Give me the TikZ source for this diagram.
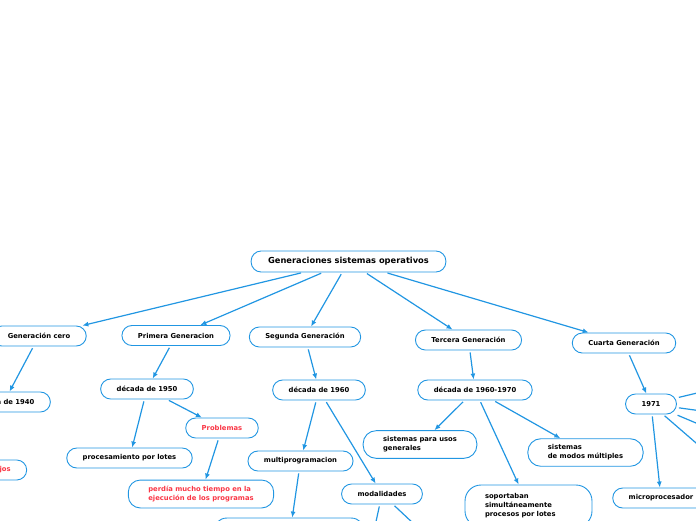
\documentclass[tikz,border=0pt]{standalone}
\usepackage{fontspec}
\setmainfont{DejaVu Sans}
\usetikzlibrary{arrows.meta}

\definecolor{mmblue}{RGB}{33,150,226}
\definecolor{mmred}{RGB}{250,55,70}

\tikzset{
  topic/.style={draw=mmblue, line width=0.9pt, fill=white, rounded corners=10pt,
    inner xsep=16pt, inner ysep=0pt, minimum height=20pt, align=center,
    font=\bfseries\fontsize{6.8}{9}\selectfont},
  roottopic/.style={topic, minimum height=21pt, inner xsep=17pt,
    font=\bfseries\fontsize{8.3}{10}\selectfont},
  note/.style={topic, align=left, inner xsep=20pt, inner ysep=6pt, rounded corners=13pt},
  warn/.style={text=mmred},
  link/.style={draw=mmblue, line width=1.2pt, shorten <=2pt,
    -{Latex[length=6pt,width=5pt]}},
}

\begin{document}
\begin{tikzpicture}[x=1pt, y=-1pt]
  \useasboundingbox (0,0) rectangle (696,520);
  \clip (0,0) rectangle (696,520);

  % Central topic
  \node[roottopic] (root) at (348.5,261.5) {Generaciones sistemas operativos};

  % Generations
  \node[topic] (gen0) at (39,336) {Generación cero};
  \node[topic] (gen1) at (176,335.5) {Primera Generacion};
  \node[topic] (gen2) at (305,337) {Segunda Generación};
  \node[topic] (gen3) at (468.5,340) {Tercera Generación};
  \node[topic] (gen4) at (624,343) {Cuarta Generación};

  % Generacion cero
  \node[topic] (dec40) at (4,402) {década de 1940};
  \node[topic, warn] (trab) at (-5.5,470) {Trabajos};
  \coordinate (c40) at (-22,445);

  % Primera generacion
  \node[topic] (dec50) at (147,389) {década de 1950};
  \node[topic] (lotes) at (129.5,458) {procesamiento por lotes};
  \node[topic, warn] (prob) at (222,428) {Problemas};
  \node[note, warn, rounded corners=12pt] (perdia) at (201,494)
    {perdía mucho tiempo en la\\ejecución de los programas};

  % Segunda generacion
  \node[topic] (dec60) at (319,390) {década de 1960};
  \node[topic] (multi) at (300.5,461) {multiprogramacion};
  \node[topic] (modal) at (382,494) {modalidades};
  \node[topic, minimum width=152pt, minimum height=44pt, rounded corners=14pt] (multi2) at (289,540) {};
  \coordinate (m1) at (372,540);
  \coordinate (m2) at (431,540);

  % Tercera generacion
  \node[topic] (dec6070) at (475,390) {década de 1960-1970};
  \node[note] (usos) at (420,444.5) {sistemas para usos\\generales};
  \node[note] (modos) at (585.5,452.5) {sistemas\\de modos múltiples};
  \node[note, text width=87pt, minimum height=42pt, rounded corners=16pt] (soport) at (528.5,506)
    {soportaban\\simultáneamente\\procesos por lotes};

  % Cuarta generacion
  \node[topic] (y71) at (651,404) {1971};
  \node[topic] (micro) at (661,498) {microprocesador};
  \coordinate (t1) at (760,378);
  \coordinate (t2) at (760,419);
  \coordinate (t3) at (760,450);
  \coordinate (t4) at (740,481);

  % Connectors
  \foreach \a/\b in {root/gen0, root/gen1, root/gen2, root/gen3, root/gen4,
      gen0/dec40, dec40/c40,
      gen1/dec50, dec50/lotes, dec50/prob, prob/perdia,
      gen2/dec60, dec60/multi, dec60/modal, multi/multi2, modal/m1, modal/m2,
      gen3/dec6070, dec6070/usos, dec6070/soport, dec6070/modos,
      gen4/y71, y71/micro, y71/t1, y71/t2, y71/t3, y71/t4}
    \draw[link] (\a) -- (\b);
\end{tikzpicture}
\end{document}
